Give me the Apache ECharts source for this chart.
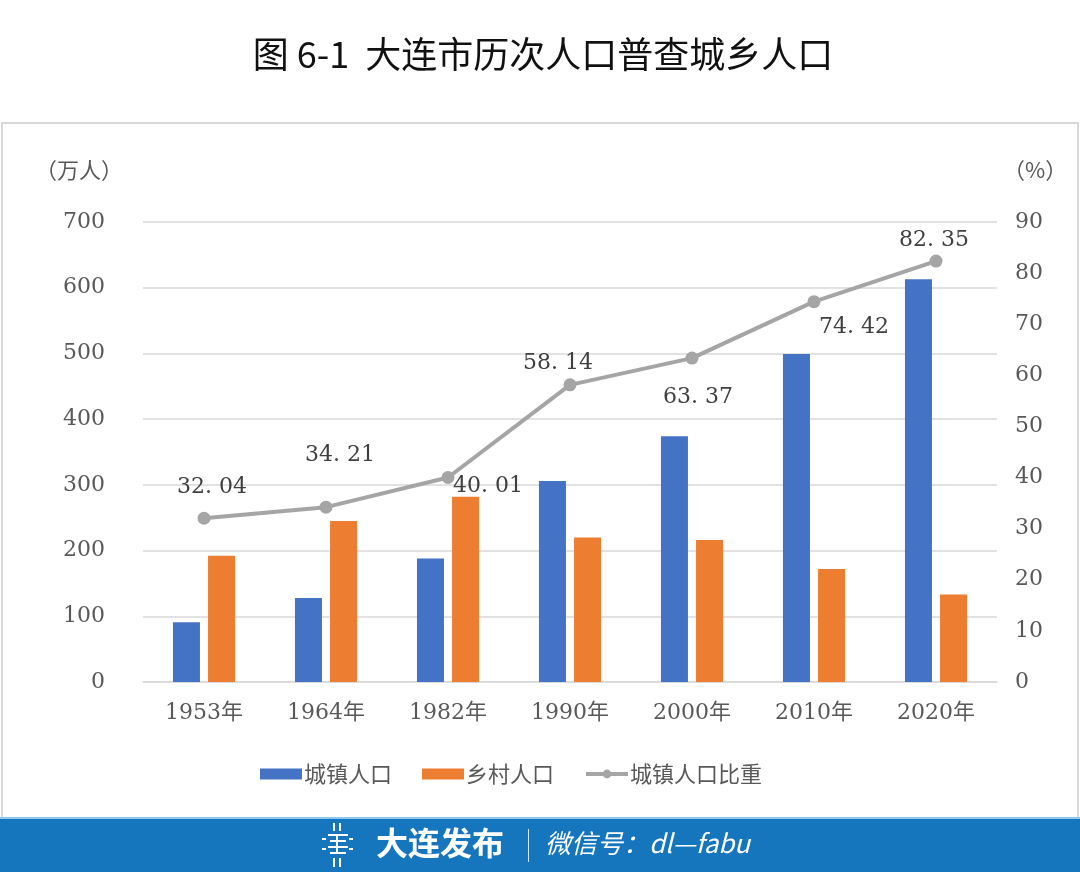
<!DOCTYPE html>
<html>
<head>
<meta charset="utf-8">
<script src="https://cdn.jsdelivr.net/npm/echarts@6/dist/echarts.min.js"></script>
<style>
html,body{margin:0;padding:0;background:#fff;}
#c{width:1080px;height:872px;}
</style>
</head>
<body>
<div id="c"></div>
<script>
var categories = ['1953年','1964年','1982年','1990年','2000年','2010年','2020年'];
var urbanPop = [91, 128, 188, 306, 374, 499, 613];
var ruralPop = [192, 245, 282, 220, 216, 172, 133];
var urbanRatio = [32.04, 34.21, 40.01, 58.14, 63.37, 74.42, 82.35];
var leftTicks = [0, 700, 100];
var rightTicks = [0, 90, 10];

// label offsets (style only)
var labelOffsets = [[8,-31],[14,-52],[40,9],[-12,-22],[6,39],[40,26],[-2,-21]];

var serif = '"DejaVu Serif", "Noto Sans CJK SC", serif';
var cjk = '"Noto Sans CJK SC", sans-serif';

var ratioData = urbanRatio.map(function (v, i) {
  return {
    value: v,
    label: { offset: labelOffsets[i] }
  };
});

var chart = echarts.init(document.getElementById('c'));
chart.setOption({
  animation: false,
  backgroundColor: '#ffffff',
  graphic: [
    { type: 'rect', z: -10, shape: { x: 2, y: 123, width: 1076, height: 705 },
      style: { fill: '#ffffff', stroke: '#d9d9d9', lineWidth: 2 } },
    { type: 'text', x: 543, y: 36,
      style: { text: '图 6-1  大连市历次人口普查城乡人口', font: '36px ' + cjk, fill: '#111111', align: 'center' } },
    { type: 'text', x: 35, y: 159,
      style: { text: '（万人）', font: '22px ' + cjk, fill: '#595959' } },
    { type: 'text', x: 1003, y: 159,
      style: { text: '（%）', font: '22px ' + cjk, fill: '#595959' } },
    { type: 'rect', shape: { x: 0, y: 818, width: 1080, height: 54 }, style: { fill: '#1676bd' } },
    { type: 'rect', shape: { x: 0, y: 817, width: 1080, height: 2 }, style: { fill: '#8cc8ee' } },
    // logo icon (approximation)
    { type: 'group', children: [
      { type: 'rect', shape: { x: 333, y: 823, width: 2, height: 8 }, style: { fill: '#fff' } },
      { type: 'rect', shape: { x: 339, y: 823, width: 2, height: 8 }, style: { fill: '#fff' } },
      { type: 'rect', shape: { x: 328, y: 834, width: 20, height: 2 }, style: { fill: '#fff' } },
      { type: 'rect', shape: { x: 330, y: 840, width: 16, height: 2 }, style: { fill: '#fff' } },
      { type: 'rect', shape: { x: 328, y: 846, width: 20, height: 2 }, style: { fill: '#fff' } },
      { type: 'rect', shape: { x: 330, y: 852, width: 16, height: 2 }, style: { fill: '#fff' } },
      { type: 'rect', shape: { x: 336, y: 834, width: 2, height: 20 }, style: { fill: '#fff' } },
      { type: 'rect', shape: { x: 322, y: 838, width: 4, height: 2 }, style: { fill: '#fff' } },
      { type: 'rect', shape: { x: 322, y: 848, width: 4, height: 2 }, style: { fill: '#fff' } },
      { type: 'rect', shape: { x: 349, y: 838, width: 4, height: 2 }, style: { fill: '#fff' } },
      { type: 'rect', shape: { x: 349, y: 848, width: 4, height: 2 }, style: { fill: '#fff' } },
      { type: 'rect', shape: { x: 333, y: 858, width: 2, height: 9 }, style: { fill: '#fff' } },
      { type: 'rect', shape: { x: 339, y: 858, width: 2, height: 9 }, style: { fill: '#fff' } }
    ]},
    { type: 'text', x: 376, y: 827,
      style: { text: '大连发布', font: 'bold 32px ' + cjk, fill: '#ffffff' } },
    { type: 'rect', shape: { x: 528, y: 829, width: 1, height: 33 }, style: { fill: '#cfe6f7' } },
    { type: 'text', x: 545, y: 830,
      style: { text: '微信号：dl—fabu', font: 'italic 26px ' + cjk, fill: '#ffffff' } }
  ],
  legend: {
    bottom: 82,
    left: 255,
    itemWidth: 42,
    itemHeight: 11,
    itemGap: 30,
    textStyle: { fontFamily: cjk, fontSize: 22, color: '#595959', padding: [0,0,0,-3] },
    data: [
      { name: '城镇人口', icon: 'rect' },
      { name: '乡村人口', icon: 'rect' },
      { name: '城镇人口比重', lineStyle: { width: 4, color: '#a5a5a5' } }
    ]
  },
  grid: { left: 143, right: 83, top: 222, bottom: 190 },
  xAxis: {
    type: 'category',
    data: categories,
    axisLine: { show: true, lineStyle: { color: '#d9d9d9', width: 1.5 } },
    axisTick: { show: false },
    axisLabel: { fontFamily: serif, fontSize: 22, color: '#595959', margin: 20 }
  },
  yAxis: [
    {
      type: 'value', min: leftTicks[0], max: leftTicks[1], interval: leftTicks[2],
      axisLine: { show: false }, axisTick: { show: false },
      splitLine: { lineStyle: { color: '#d9d9d9', width: 1.5 } },
      axisLabel: { fontFamily: serif, fontSize: 22, color: '#595959', margin: 38 }
    },
    {
      type: 'value', min: rightTicks[0], max: rightTicks[1], interval: rightTicks[2],
      axisLine: { show: false }, axisTick: { show: false },
      splitLine: { show: false },
      axisLabel: { fontFamily: serif, fontSize: 22, color: '#595959', margin: 18 }
    }
  ],
  series: [
    {
      name: '城镇人口', type: 'bar', data: urbanPop, barWidth: 27, barGap: '30%',
      itemStyle: { color: '#4472c4' }
    },
    {
      name: '乡村人口', type: 'bar', data: ruralPop, barWidth: 27, barGap: '30%',
      itemStyle: { color: '#ed7d31' }
    },
    {
      name: '城镇人口比重', type: 'line', yAxisIndex: 1, data: ratioData,
      symbol: 'circle', symbolSize: 13,
      lineStyle: { color: '#a5a5a5', width: 4 },
      itemStyle: { color: '#a5a5a5' },
      label: {
        show: true, position: 'inside', align: 'center', verticalAlign: 'middle',
        fontFamily: serif, fontSize: 22, color: '#404040',
        formatter: function (p) { return p.value.toFixed(2).replace('.', '. '); }
      }
    }
  ]
});
</script>
</body>
</html>
